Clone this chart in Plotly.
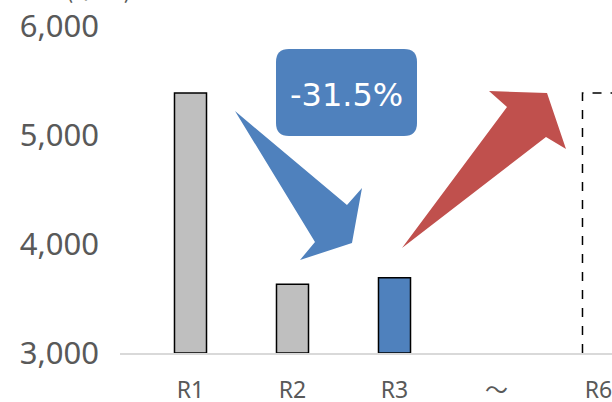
import plotly.graph_objects as go

categories = ["R1", "R2", "R3", "～", "R6"]
values = [5385, 3630, 3690, None, 5385]
fills = ["#bfbfbf", "#bfbfbf", "#4f81bd", None, None]
y_ticks = [3000, 4000, 5000, 6000]
y_tick_labels = ["3,000", "4,000", "5,000", "6,000"]
change_label = "-31.5%"
unit_label = "(千円)"

W, H = 612, 402
L, R, T, B = 120, 0, 26, 49
PW, PH = W - L - R, H - T - B
BAR_W = 0.314

def px(x):
    return (x - L) / PW

def py(y):
    return (H - B - y) / PH

def path(points):
    return "M " + " L ".join(f"{px(a):.5f},{py(b):.5f}" for a, b in points) + " Z"

fig = go.Figure()

idx = list(range(len(categories)))
solid_x = [i for i, v, f in zip(idx, values, fills) if v is not None and f is not None]
fig.add_trace(go.Bar(
    x=solid_x,
    y=[values[i] - 3000 for i in solid_x],
    base=3000,
    width=BAR_W,
    marker=dict(color=[fills[i] for i in solid_x], line=dict(color="#000000", width=1.5)),
    hoverinfo="skip",
))

# dashed target bar (R6)
for i, v, f in zip(idx, values, fills):
    if v is not None and f is None:
        x0, x1 = i - BAR_W / 2, i + BAR_W / 2
        fig.add_trace(go.Scatter(
            x=[x0, x0, x1, x1], y=[3000, v, v, 3000], mode="lines",
            line=dict(color="#000000", width=1.5, dash="dash"),
            hoverinfo="skip",
        ))

shapes = []
# blue arrow (decrease)
shapes.append(dict(type="path", xref="paper", yref="paper",
    path=path([(235, 111), (347, 205), (362, 188), (352, 243), (300, 260), (315, 242)]),
    fillcolor="#4f81bd", line=dict(width=0)))
# red arrow (recovery)
shapes.append(dict(type="path", xref="paper", yref="paper",
    path=path([(402, 248), (507, 107), (489, 91), (547, 93), (566, 149), (546, 137)]),
    fillcolor="#c0504d", line=dict(width=0)))
# rounded label box
x0, x1, y0, y1, r = 276, 417, 49, 136, 13
box = (f"M {px(x0+r):.5f},{py(y0):.5f} L {px(x1-r):.5f},{py(y0):.5f} "
       f"Q {px(x1):.5f},{py(y0):.5f} {px(x1):.5f},{py(y0+r):.5f} "
       f"L {px(x1):.5f},{py(y1-r):.5f} Q {px(x1):.5f},{py(y1):.5f} {px(x1-r):.5f},{py(y1):.5f} "
       f"L {px(x0+r):.5f},{py(y1):.5f} Q {px(x0):.5f},{py(y1):.5f} {px(x0):.5f},{py(y1-r):.5f} "
       f"L {px(x0):.5f},{py(y0+r):.5f} Q {px(x0):.5f},{py(y0):.5f} {px(x0+r):.5f},{py(y0):.5f} Z")
shapes.append(dict(type="path", xref="paper", yref="paper", path=box,
                   fillcolor="#4f81bd", line=dict(width=0)))

fig.update_layout(
    width=W, height=H, autosize=False,
    margin=dict(l=L, r=R, t=T, b=B, pad=0, autoexpand=False),
    paper_bgcolor="white", plot_bgcolor="white",
    showlegend=False,
    shapes=shapes,
    annotations=[
        dict(text=change_label, xref="paper", yref="paper", x=px(346), y=py(95),
             showarrow=False, font=dict(family="DejaVu Sans", size=32, color="white"),
             xanchor="center", yanchor="middle"),
        dict(text=unit_label, xref="paper", yref="paper", x=px(98), y=py(-13),
             showarrow=False, font=dict(family="Noto Sans CJK JP", size=25, color="#595959"),
             xanchor="center", yanchor="middle"),
    ],
    xaxis=dict(
        range=[(L - 190.5) / 102, (W - 190.5) / 102],
        tickmode="array", tickvals=idx, ticktext=categories,
        showgrid=False, zeroline=False, showline=True, linecolor="#d9d9d9", linewidth=1.5,
        ticks="", ticklabelstandoff=16, automargin=False, ticklabeloverflow="allow",
        tickfont=dict(family="Noto Sans, Noto Sans CJK JP", size=23, color="#595959"),
    ),
    yaxis=dict(
        range=[3000, 6000],
        tickmode="array", tickvals=y_ticks, ticktext=y_tick_labels,
        showgrid=False, zeroline=False, showline=False, automargin=False,
        ticks="", ticklabelstandoff=20, ticklabeloverflow="allow",
        tickfont=dict(family="Noto Sans", size=31, color="#595959"),
    ),
)

fig.write_html("out.html", config={"displayModeBar": False},
               post_script="document.body.style.margin='0';")
